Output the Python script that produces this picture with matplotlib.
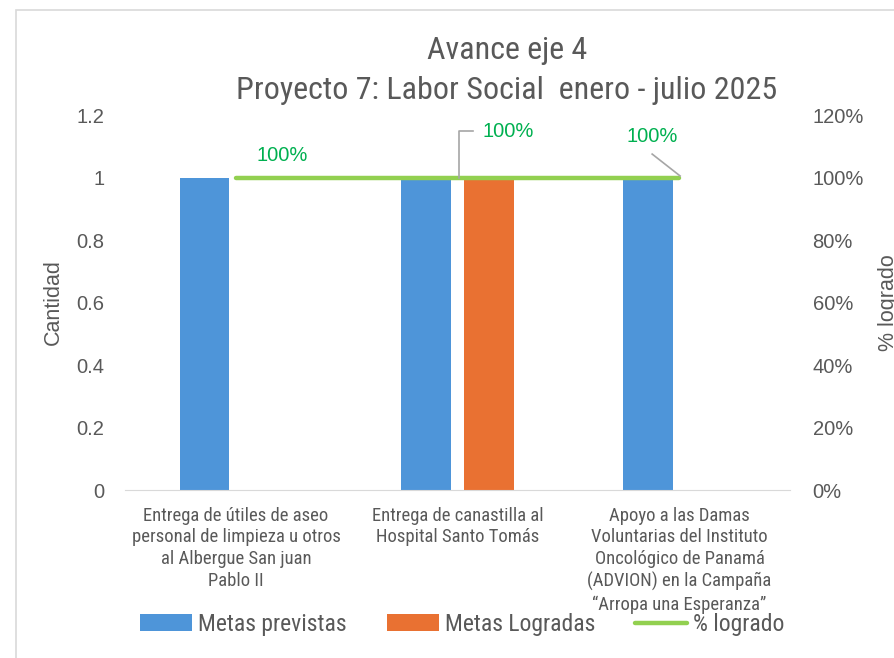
import numpy as np
import matplotlib.pyplot as plt
from matplotlib.patches import Rectangle
from matplotlib.ticker import FuncFormatter

# ---- data ----
categorias = [
    "Entrega de útiles de aseo\npersonal de limpieza u otros\nal Albergue San juan\nPablo II",
    "Entrega de canastilla al\nHospital Santo Tomás",
    "Apoyo a las Damas\nVoluntarias del Instituto\nOncológico de Panamá\n(ADVION) en la Campaña\n\u201cArropa una Esperanza\u201d",
]
metas_previstas = [1, 1, 1]
metas_logradas = [0, 1, 0]
pct_logrado = [1.0, 1.0, 1.0]   # 100%
etiquetas_pct = ["100%", "100%", "100%"]

titulo = ["Avance eje 4", "Proyecto 7: Labor Social  enero - julio 2025"]

# ---- style ----
narrow = ["Roboto Condensed", "DejaVu Sans"]
sans = ["Liberation Sans", "DejaVu Sans"]
plt.rcParams["font.family"] = sans
gris = "#595959"
azul = "#4E95D9"
naranja = "#E97132"
verde = "#92D050"
verde_txt = "#00B050"

fig = plt.figure(figsize=(8.94, 6.58), dpi=100)
ax = fig.add_axes([0.140, 0.2553, 0.744, 0.5699])
ax2 = ax.twinx()

x = np.arange(len(categorias))
w = 0.225
off = 0.142
ax.bar(x - off, metas_previstas, w, color=azul, label="Metas previstas", zorder=2)
ax.bar(x + off, metas_logradas, w, color=naranja, label="Metas Logradas", zorder=2)
ax2.plot(x, pct_logrado, color=verde, lw=3.2, solid_capstyle="round",
         label="% logrado", zorder=3)

ax.set_xlim(-0.5, 2.5)
ax.set_ylim(0, 1.2)
ax2.set_ylim(0, 1.2)
ax.set_yticks(np.arange(0, 1.21, 0.2))
ax.set_yticklabels(["0", "0.2", "0.4", "0.6", "0.8", "1", "1.2"])
ax2.set_yticks(np.arange(0, 1.21, 0.2))
ax2.yaxis.set_major_formatter(FuncFormatter(lambda v, p: f"{v*100:.0f}%"))

for a in (ax, ax2):
    for s in a.spines.values():
        s.set_visible(False)
    a.tick_params(length=0)
    a.tick_params(axis="y", labelsize=14.5, labelcolor=gris)
ax.spines["bottom"].set_visible(True)
ax.spines["bottom"].set_color("#D9D9D9")
ax.tick_params(axis="y", pad=15)
ax2.tick_params(axis="y", pad=16)
ax.tick_params(axis="x", pad=12)

ax.set_xticks(x)
ax.set_xticklabels(categorias, family=narrow, fontsize=13.4, color=gris,
                   linespacing=1.27)

ax.set_ylabel("Cantidad", fontsize=15.5, color=gris, labelpad=9)
ax2.set_ylabel("% logrado", fontsize=15.5, color=gris, rotation=90, labelpad=10)

# data labels for the line
lbl_pos = [(0.208, 1.072), (1.228, 1.146), (1.877, 1.13)]
for i, (tx, ty) in enumerate(lbl_pos):
    ax2.text(tx, ty, etiquetas_pct[i], color=verde_txt, fontsize=14.5,
             ha="center", va="center")
# leader lines
ax2.plot([x[1] + 0.007, x[1] + 0.007, x[1] + 0.07],
         [pct_logrado[1], 1.149, 1.149], color="#A6A6A6", lw=1.2, zorder=4)
ax2.plot([1.877, x[2] + 0.003], [1.075, pct_logrado[2] + 0.005],
         color="#A6A6A6", lw=1.2, zorder=4)

# title
fig.text(0.567, 0.924, titulo[0], family=narrow, fontsize=23, color=gris,
         ha="center", va="center")
fig.text(0.567, 0.863, titulo[1], family=narrow, fontsize=23, color=gris,
         ha="center", va="center")

# legend
h1, l1 = ax.get_legend_handles_labels()
h2, l2 = ax2.get_legend_handles_labels()
fig.legend(h1 + h2, l1 + l2, loc="center", bbox_to_anchor=(0.517, 0.051),
           ncol=3, frameon=False, prop={"family": narrow, "size": 17},
           labelcolor=gris, handlelength=2.2, handleheight=0.7,
           handletextpad=0.25, columnspacing=1.7)

# chart frame
fig.patches.append(Rectangle((16 / 894, -0.1), 1.1, (658 - 10) / 658 + 0.1,
                             transform=fig.transFigure, fill=False,
                             edgecolor="#D9D9D9", lw=1.2))

fig.savefig("out.png", dpi=100)
